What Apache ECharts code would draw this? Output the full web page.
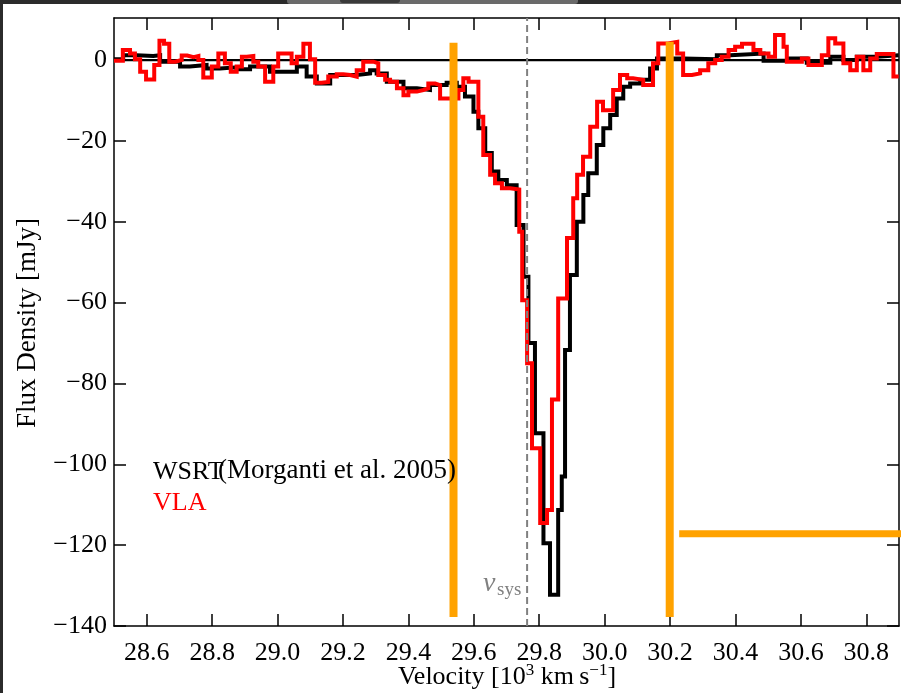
<!DOCTYPE html>
<html><head><meta charset="utf-8">
<script src="https://cdn.jsdelivr.net/npm/echarts@6/dist/echarts.min.js"></script>
<style>html,body{margin:0;padding:0;background:#fff}#c{width:901px;height:693px}</style>
</head><body><div id="c"></div>
<script>
// ---- axes ----
const velocityTicks = [28.6, 28.8, 29.0, 29.2, 29.4, 29.6, 29.8, 30.0, 30.2, 30.4, 30.6, 30.8];
const fluxTicks = [-140, -120, -100, -80, -60, -40, -20, 0];
const velocityRange = [28.5, 30.9];
const fluxRange = [-140, 10.4];

// ---- WSRT (Morganti et al. 2005), step left edges [1e3 km/s] and flux [mJy] ----
const wsrtVelocity = [28.500, 28.528, 28.569, 28.620, 28.641, 28.702, 28.732, 28.783, 28.824, 28.875,
  28.916, 28.977, 29.059, 29.089, 29.120, 29.161, 29.242, 29.283, 29.303, 29.334,
  29.385, 29.426, 29.466, 29.517, 29.548, 29.573, 29.599, 29.614, 29.635, 29.655,
  29.675, 29.701, 29.731, 29.752, 29.767, 29.787, 29.813, 29.833, 29.858, 29.869,
  29.879, 29.894, 29.915, 29.935, 29.950, 29.976, 29.996, 30.017, 30.037, 30.057,
  30.078, 30.109, 30.139, 30.160, 30.240, 30.343, 30.384, 30.486, 30.567, 30.618,
  30.690, 30.730, 30.771, 30.832, 30.899];
const wsrtFlux = [0.2, 1.2, 1.0, 1.2, -0.4, -1.6, -1.2, -2.1, -1.8, -2.3,
  -1.6, -2.9, -1.6, -4.1, -5.8, -3.7, -3.3, -2.5, -3.3, -5.4,
  -7.0, -7.4, -6.2, -5.6, -6.6, -9.0, -12.8, -16.9, -23.0, -27.6,
  -29.7, -31.0, -40.8, -53.6, -70.0, -92.3, -119.5, -132.3, -111.3, -103.0,
  -71.7, -53.2, -40.0, -33.4, -28.0, -21.0, -16.9, -13.6, -9.5, -6.6,
  -5.8, -4.9, -2.1, 0.4, 0.2, 1.2, 1.6, -0.2, 0.4, -0.7,
  0.8, 0, 0.8, 1.2, 1.2];

// ---- VLA ----
const vlaVelocity = [28.500, 28.527, 28.549, 28.564, 28.580, 28.598, 28.623, 28.639, 28.653, 28.669,
  28.687, 28.707, 28.724, 28.743, 28.758, 28.773, 28.799, 28.819, 28.839, 28.857,
  28.875, 28.891, 28.906, 28.926, 28.941, 28.962, 28.987, 29.002, 29.043, 29.059,
  29.079, 29.099, 29.115, 29.135, 29.155, 29.181, 29.201, 29.222, 29.242, 29.262,
  29.293, 29.308, 29.329, 29.344, 29.365, 29.385, 29.400, 29.426, 29.446, 29.461,
  29.482, 29.497, 29.553, 29.568, 29.584, 29.614, 29.629, 29.650, 29.665, 29.686,
  29.711, 29.739, 29.748, 29.763, 29.778, 29.803, 29.824, 29.839, 29.858, 29.885,
  29.904, 29.916, 29.934, 29.956, 29.977, 29.995, 30.026, 30.047, 30.069, 30.087,
  30.118, 30.148, 30.164, 30.194, 30.222, 30.240, 30.267, 30.292, 30.317, 30.338,
  30.358, 30.379, 30.399, 30.420, 30.455, 30.476, 30.501, 30.521, 30.547, 30.557,
  30.603, 30.623, 30.664, 30.684, 30.705, 30.730, 30.751, 30.771, 30.791, 30.812,
  30.832, 30.883, 30.899];
const vlaFlux = [-0.2, 2.5, 1.6, 0.2, -2.9, -4.8, -1.2, 4.8, 4.0, -0.4,
  0, 1.1, 0.7, 1.0, 0, -4.3, -1.6, 1.6, -0.8, -2.9,
  -1.6, 0.8, 1.0, -0.4, -1.6, -5.4, -1.6, 1.6, -0.8, 0.8,
  4.0, 0.2, -5.6, -5.4, -4.1, -3.5, -3.7, -4.1, -2.5, -0.4,
  -0.8, -3.7, -4.9, -5.4, -7.0, -8.7, -7.8, -7.4, -7.0, -5.8,
  -6.2, -9.5, -7.4, -4.5, -5.4, -14.0, -23.5, -28.4, -30.5, -31.7,
  -32.0, -42.5, -59.4, -75.0, -96.0, -114.5, -111.3, -84.0, -59.0, -44.0,
  -34.2, -28.4, -23.9, -16.5, -10.3, -12.4, -7.4, -3.7, -4.5, -4.9,
  -6.2, -0.8, 4.1, 4.5, 1.6, -3.7, -3.3, -2.5, -0.8, 0,
  0.8, 2.5, 3.3, 4.0, 2.5, 1.6, 0.8, 6.2, 3.3, -0.4,
  0.4, -1.2, 1.2, 5.4, 4.1, -0.8, -2.5, 0.8, -2.5, 0.4,
  1.5, -4.1, -4.1];

// ---- annotations ----
const systemicVelocity = 29.763;
const markerVelocity = [29.538, 30.199];
const markerTop = [4.3, 4.5];
const markerBottom = [-137.8, -137.8];
const limitFlux = -117.2;
const limitVelocity = [30.228, 30.95];

const FONT = "'Liberation Serif','DejaVu Serif',serif";
const ORANGE = '#ffa200';
const minus = v => String(v).replace('-', '\u2212');
const pairs = (xs, ys) => xs.map((x, i) => [x, ys[i]]);

const chart = echarts.init(document.getElementById('c'), null, {renderer: 'canvas'});

const axisLineStyle = {color: '#000', width: 1.5};
function xAx(pos, labels) {
  return {
    type: 'value', min: velocityRange[0], max: velocityRange[1], position: pos,
    axisLine: {show: true, onZero: false, lineStyle: axisLineStyle},
    axisTick: {show: true, inside: true, length: 12, customValues: velocityTicks, lineStyle: axisLineStyle},
    axisLabel: {show: labels, customValues: velocityTicks, formatter: v => v.toFixed(1),
      fontFamily: FONT, fontSize: 26, color: '#000', margin: 14},
    splitLine: {show: false}
  };
}
function yAx(pos, labels) {
  return {
    type: 'value', min: fluxRange[0], max: fluxRange[1], position: pos,
    axisLine: {show: true, onZero: false, lineStyle: axisLineStyle},
    axisTick: {show: true, inside: true, length: 12, customValues: fluxTicks, lineStyle: axisLineStyle},
    axisLabel: {show: labels, customValues: fluxTicks, formatter: v => minus(v),
      fontFamily: FONT, fontSize: 26, color: '#000', margin: 7},
    splitLine: {show: false}
  };
}

const series = [
  {type: 'line', data: [[velocityRange[0], 0], [velocityRange[1], 0]], symbol: 'none',
    lineStyle: {color: '#000', width: 2.2}, z: 1, silent: true},
  {name: 'WSRT', type: 'line', step: 'end', data: pairs(wsrtVelocity, wsrtFlux), symbol: 'none',
    lineStyle: {color: '#000', width: 4, join: 'miter'}, z: 2},
  {name: 'VLA', type: 'line', step: 'end', data: pairs(vlaVelocity, vlaFlux), symbol: 'none',
    lineStyle: {color: '#ff0000', width: 4, join: 'miter'}, z: 3},
  {type: 'line', data: [[systemicVelocity, fluxRange[0]], [systemicVelocity, fluxRange[1]]], symbol: 'none',
    lineStyle: {color: '#808080', width: 2, type: [7, 4]}, z: 4},
  {type: 'line', data: [[limitVelocity[0], limitFlux], [limitVelocity[1], limitFlux]], symbol: 'none',
    lineStyle: {color: ORANGE, width: 7, cap: 'butt'}, z: 5}
];
markerVelocity.forEach((v, i) => {
  series.push({type: 'line', data: [[v, markerTop[i]], [v, markerBottom[i]]], symbol: 'none',
    lineStyle: {color: ORANGE, width: 8, cap: 'butt'}, z: 5});
});

chart.setOption({
  animation: false,
  backgroundColor: '#fff',
  grid: {left: 114, right: 2, top: 18, bottom: 67, containLabel: false},
  xAxis: [xAx('bottom', true), xAx('top', false)],
  yAxis: [yAx('left', true), yAx('right', false)],
  series: series,
  graphic: [
    {type: 'rect', shape: {x: 0, y: 0, width: 901, height: 4}, style: {fill: '#2b2b2b'}, z: 100},
    {type: 'rect', shape: {x: 0, y: 0, width: 3, height: 693}, style: {fill: '#2b2b2b'}, z: 100},
    {type: 'rect', shape: {x: 287, y: 0, width: 291, height: 4, r: [0, 0, 3, 3]}, style: {fill: '#6a6a6a'}, z: 101},
    {type: 'rect', shape: {x: 340, y: 0, width: 60, height: 3, r: [0, 0, 3, 3]}, style: {fill: '#3a3a3a'}, z: 102},
    {type: 'text', x: 153, y: 472, style: {text: 'WSRT', font: "26px " + FONT, fill: '#000',
      textAlign: 'left', textVerticalAlign: 'middle'}, z: 50},
    {type: 'text', x: 218, y: 471, style: {text: '(Morganti et al. 2005)', font: "27px " + FONT, fill: '#000',
      textAlign: 'left', textVerticalAlign: 'middle'}, z: 50},
    {type: 'text', x: 153, y: 503, style: {text: 'VLA', font: "26px " + FONT, fill: '#ff0000',
      textAlign: 'left', textVerticalAlign: 'middle'}, z: 50},
    {type: 'text', x: 483, y: 584, style: {text: 'v', font: "italic 28px " + FONT, fill: '#808080',
      textAlign: 'left', textVerticalAlign: 'middle'}, z: 50},
    {type: 'text', x: 497, y: 590, style: {text: 'sys', font: "19px " + FONT, fill: '#808080',
      textAlign: 'left', textVerticalAlign: 'middle'}, z: 50},
    {type: 'text', x: 507, y: 677, style: {
      text: '{a|Velocity [10}{s|3}{a| km\u2009s}{s|\u22121}{a|]}',
      textAlign: 'center', textVerticalAlign: 'middle',
      rich: {
        a: {fontFamily: FONT, fontSize: 26, fill: '#000', lineHeight: 30},
        s: {fontFamily: FONT, fontSize: 17, fill: '#000', verticalAlign: 'top', lineHeight: 17}
      }}, z: 50},
    {type: 'text', x: 28, y: 323, rotation: Math.PI / 2, style: {text: 'Flux Density [mJy]',
      font: "27px " + FONT, fill: '#000', textAlign: 'center', textVerticalAlign: 'middle'}, z: 50}
  ]
});
</script></body></html>
